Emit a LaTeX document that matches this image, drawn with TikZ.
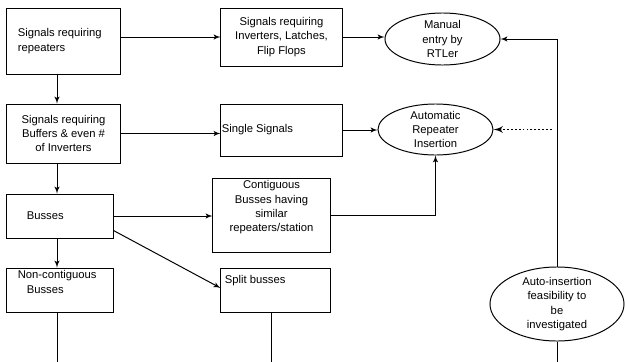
\documentclass[tikz,border=0pt]{standalone}
\usepackage{fontspec}
\setmainfont{Liberation Sans}
\usetikzlibrary{shapes.geometric, arrows}

\begin{document}
\begin{tikzpicture}[
    x=0.025cm, y=-0.025cm,
    font=\fontsize{8pt}{10.2pt}\selectfont,
    box/.style={rectangle, draw, line width=0.7pt, inner sep=0pt, align=center},
    oval/.style={ellipse, draw, line width=0.7pt, inner sep=-1pt, align=center},
    inner text/.style={inner sep=0pt, align=left},
    flow/.style={draw, line width=0.7pt, -latex'},
    plain/.style={draw, line width=0.7pt},
    hint/.style={draw, line width=1.3pt, dash pattern=on 1.3pt off 1.5pt, -latex'}
]
    \useasboundingbox (0,0) rectangle (626,362);

    % signal classes
    \node[box, minimum width=2.825cm, minimum height=1.65cm,
          label={[inner text, anchor=west, xshift=0.275cm]west:Signals requiring\\repeaters}] (rep) at (63.5,41) {};
    \node[box, minimum width=3.025cm, minimum height=1.45cm] (inv) at (281.5,37) {Signals requiring\\Inverters, Latches,\\Flip Flops};
    \node[box, minimum width=2.825cm, minimum height=1.475cm] (buf) at (63.5,133.5) {Signals requiring\\Buffers \& even \#\\of Inverters};
    \node[box, minimum width=3.025cm, minimum height=1.3cm,
          label={[inner text, anchor=west, xshift=0.025cm]west:Single Signals}] (single) at (281.5,130) {};
    \node[box, minimum width=2.65cm, minimum height=1.1cm,
          label={[inner text, anchor=west, xshift=0.5cm]west:Busses}] (bus) at (60,216) {};
    \node[box, minimum width=2.925cm, minimum height=1.85cm,
          label={[inner text, align=center, anchor=north, yshift=-0.075cm]north:Contiguous\\Busses having\\similar\\repeaters/station}] (contig) at (271.5,215) {};
    \node[box, minimum width=2.65cm, minimum height=1.1cm,
          label={[inner text, anchor=north west, xshift=0.275cm, yshift=-0.075cm]north west:Non-contiguous\\\hspace*{0.225cm}Busses}] (noncontig) at (60,290) {};
    \node[box, minimum width=2.725cm, minimum height=1.1cm,
          label={[inner text, anchor=north west, xshift=0.1cm, yshift=-0.2cm]north west:Split busses}] (split) at (275.5,290) {};

    % insertion methods
    \node[oval, minimum width=2.875cm, minimum height=1.3cm] (manual) at (442.5,39) {Manual\\entry by\\RTLer};
    \node[oval, minimum width=2.875cm, minimum height=1.275cm] (auto) at (435.5,129.5) {Automatic\\Repeater\\Insertion};
    \node[oval, minimum width=3.35cm, minimum height=1.85cm] (study) at (557,304) {Auto-insertion\\feasibility to\\be\\investigated};

    \coordinate (col) at (57,0);
    \coordinate (dots) at (552,129.5);
    \coordinate (cut1) at (57,362);
    \coordinate (cut2) at (271,362);
    \coordinate (cut3) at (557,362);

    \draw[flow] (rep.east |- inv) -- (inv);
    \draw[flow] (inv.east) -- (inv.east -| manual.west);
    \draw[flow] (rep.south -| col) -- (buf.north -| col);
    \draw[flow] (buf.east) -- (buf.east -| single.west);
    \draw[flow] (single.east) -- (single.east -| auto.west);
    \draw[hint] (dots) -- (auto.east);
    \draw[flow] (buf.south -| col) -- (bus.north -| col);
    \draw[flow] (bus.east) -- (bus.east -| contig.west);
    \draw[flow] (contig.east) -| (auto.south);
    \draw[flow] (bus.south -| col) -- (noncontig.north -| col);
    \draw[flow] ([yshift=0.2cm]bus.south east) -- ([yshift=0.05cm]split.west);
    \draw[plain] (noncontig.south -| col) -- (cut1);
    \draw[plain] (split.south -| cut2) -- (cut2);
    \draw[plain] (study.south) -- (cut3);
    \draw[flow] (study.north) |- (manual.east);
\end{tikzpicture}
\end{document}
